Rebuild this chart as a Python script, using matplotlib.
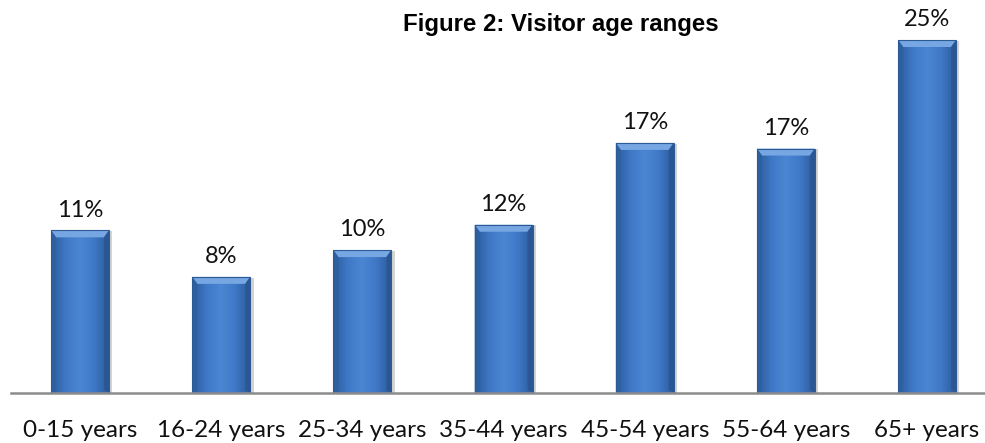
import matplotlib
matplotlib.use("Agg")
import matplotlib.pyplot as plt
import numpy as np
from matplotlib.patches import Polygon
from matplotlib.colors import LinearSegmentedColormap

# data
categories = ['0-15 years', '16-24 years', '25-34 years', '35-44 years',
              '45-54 years', '55-64 years', '65+ years']
values = [11.5, 8.2, 10.1, 11.9, 17.7, 17.3, 25.0]
labels = ['11%', '8%', '10%', '12%', '17%', '17%', '25%']

fig = plt.figure(figsize=(9.85, 4.43), dpi=100)
ax = fig.add_axes([11 / 985, 50.5 / 443, 974 / 985, 392.5 / 443])

x = np.arange(len(categories))
bars = ax.bar(x, values, width=0.41, color='#3D75C2', zorder=3)

ax.set_xlim(-0.489, 6.41)
ax.set_ylim(0, 25 * 392.5 / 352.5)

# horizontal shading across each bar
cmap = LinearSegmentedColormap.from_list(
    'barshade', ['#2C5C9C', '#3F78C6', '#4A86D3', '#3F78C6', '#2C5C9C'])
grad = np.linspace(0, 1, 64).reshape(1, -1)

bx = 5 / 141.2   # bevel width in data units
by = 7 / 14.1    # bevel height in data units
for rect in bars:
    x0 = rect.get_x()
    w = rect.get_width()
    h = rect.get_height()
    # soft shadow
    sh = plt.Rectangle((x0 + 0.012, -0.1), w + 0.012, h + 0.05,
                       color='#B8B8B8', alpha=0.6, zorder=2, lw=0)
    ax.add_patch(sh)
    im = ax.imshow(grad, cmap=cmap, aspect='auto', extent=[x0, x0 + w, 0, h],
                   zorder=3.5)
    im.set_clip_path(rect)
    # top bevel
    top = Polygon([(x0, h), (x0 + w, h), (x0 + w - bx, h - by), (x0 + bx, h - by)],
                  closed=True, color='#77A7E3', lw=0, zorder=4)
    ax.add_patch(top)
    # side bevels
    left = Polygon([(x0, h), (x0 + bx, h - by), (x0 + bx, by * 0.4), (x0, 0)],
                   closed=True, color='#2E609F', lw=0, zorder=4, alpha=0.8)
    right = Polygon([(x0 + w, h), (x0 + w - bx, h - by), (x0 + w - bx, by * 0.4), (x0 + w, 0)],
                    closed=True, color='#2A5690', lw=0, zorder=4, alpha=0.8)
    ax.add_patch(left)
    ax.add_patch(right)
    ax.add_patch(plt.Rectangle((x0, 0), w, h, fill=False, ec='#2D5A94',
                               lw=0.8, zorder=4.5))

for xi, v, lab in zip(x, values, labels):
    ax.annotate(lab, (xi, v), xytext=(0, 14.5), textcoords='offset points',
                ha='center', va='center', fontsize=17, family='Lato',
                color='#111111')

for s in ['top', 'right', 'left']:
    ax.spines[s].set_visible(False)
ax.spines['bottom'].set_color('#8C8C8C')
ax.spines['bottom'].set_linewidth(1.8)
ax.spines['bottom'].set_zorder(5)
ax.set_yticks([])
ax.set_xticks(x)
ax.set_xticklabels(categories, fontsize=17.5, family='Lato', color='#111111')
ax.tick_params(axis='x', length=0, pad=20)

fig.text(561 / 985, 1 - 31 / 443, 'Figure 2: Visitor age ranges', ha='center',
         va='baseline', fontsize=17.3, fontweight='bold', family='Liberation Sans')

fig.savefig('out.png', dpi=100)
